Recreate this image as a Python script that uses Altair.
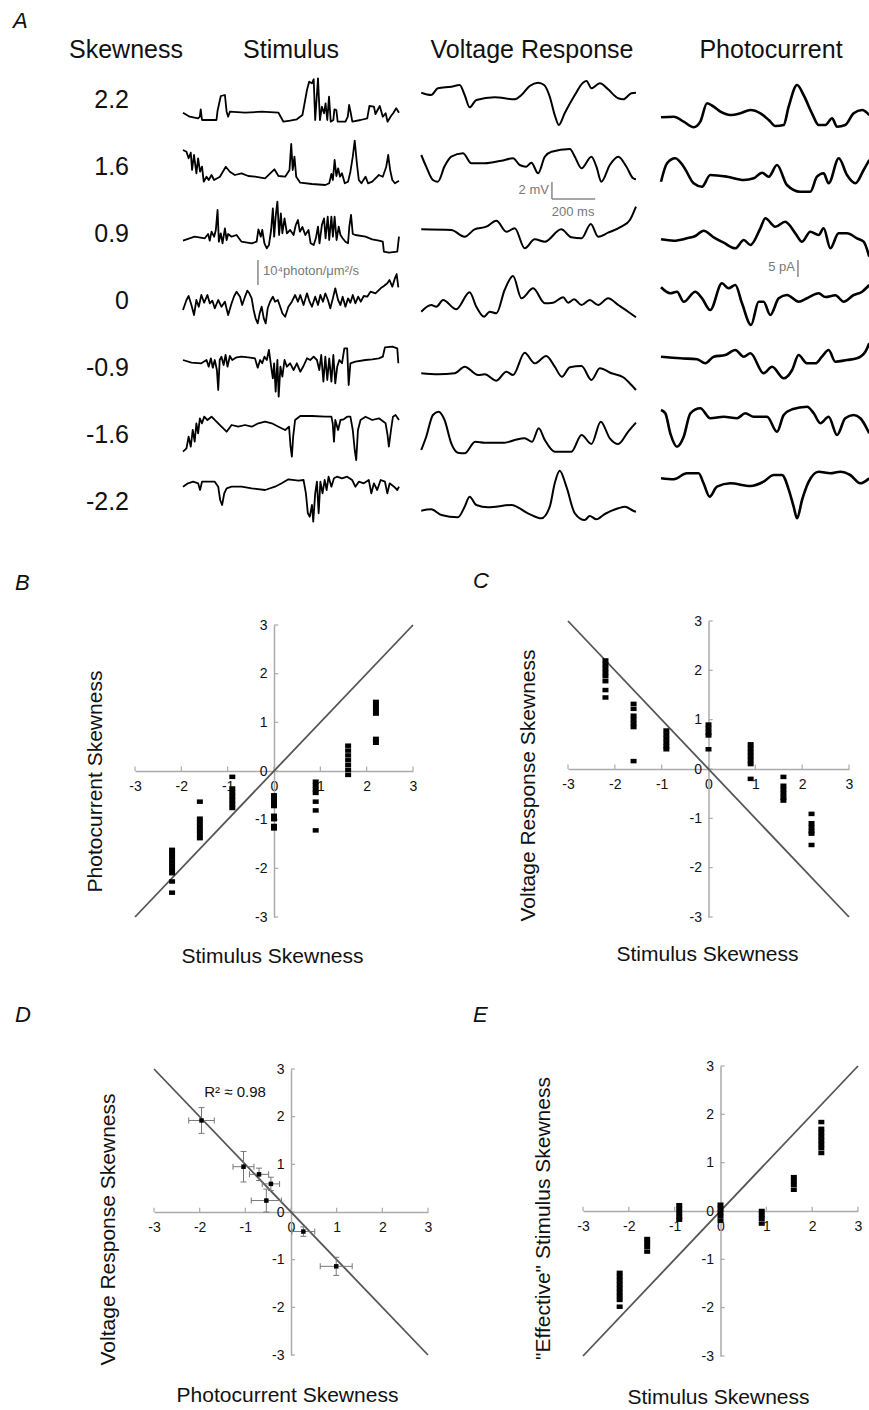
import altair as alt
import pandas as pd

FONT = "Liberation Sans"
W, H = 869, 1410

# ---------------- Panel A data ----------------
SKEW_LEVELS = ["2.2", "1.6", "0.9", "0", "-0.9", "-1.6", "-2.2"]
HEADERS = ["Skewness", "Stimulus", "Voltage Response", "Photocurrent"]

# stimulus traces  [time (ms), intensity (a.u.)]
STIM_22 = [[0,-12.7],[31,-16.7],[70,-18.3],[78,-16.7],[82,-9.3],[88,-20],[155,-20],[160,-10.7],[175,4],[194,5],[202,-11.7],[209,-16.7],[217,-11.7],[287,-12.7],[364,-11.7],[442,-12.7],[465,-21.7],[496,-20.7],[527,-19.3],[553,-15],[574,10],[584,18.3],[597,16.7],[605,20.7],[612,-20],[625,21.7],[634,-20],[643,-6.7],[653,-13.3],[660,-3.3],[668,-20],[676,3.3],[684,-21.7],[696,-20],[701,-9.3],[710,-10],[716,-21.7],[752,-21.7],[763,-16.7],[769,-5],[777,-13.3],[784,-21.7],[822,-20],[853,-18.3],[863,-6],[884,-6.7],[891,-14],[911,-6],[925,-16.7],[938,-13.3],[947,-21.7],[963,-16],[973,-13.3],[987,-8.3],[1000,-12.7]]
STIM_16 = [[0,17],[16,15.3],[26,8.7],[36,14.3],[42,-3],[51,12],[62,-6.3],[70,8.7],[79,-4.7],[88,0.3],[96,-14.7],[109,-9.7],[119,-13],[132,-8],[144,-13],[171,-9.7],[198,0.3],[217,-4.7],[240,-8],[271,-6.3],[302,-9],[333,-9.7],[380,-11.3],[423,-2.3],[442,-9],[473,-9.7],[493,-3],[501,23],[508,-3],[516,10.3],[524,-9.7],[543,-15.7],[597,-17],[659,-18],[677,-16.3],[687,-7],[694,-13],[702,7],[710,-9],[718,-1.3],[727,-9.7],[736,-6.3],[749,-16.3],[764,-14.7],[775,-4.7],[786,10.3],[795,26.3],[805,3.7],[814,-13],[826,-16.3],[845,-9.7],[857,-16.3],[876,-14.7],[907,-8],[925,-9.7],[941,0.3],[950,12],[959,-3],[969,-13],[981,-16.3],[1000,-13.7]]
STIM_09 = [[0,-6.7],[54,-2.7],[101,-4.3],[116,0],[124,-6.7],[132,2.3],[144,-2.7],[152,4],[160,24],[166,-7.7],[175,0.7],[183,-9.3],[194,5.7],[202,-6],[209,0],[225,-2.7],[248,-1],[271,-7.7],[318,-9.3],[341,-7.7],[349,4.7],[360,-2.7],[367,4],[377,-9.3],[388,-14.3],[398,-11],[408,4],[416,25.7],[422,-2.7],[429,17.3],[437,32.3],[445,-1],[453,20.7],[460,0.7],[470,15.7],[481,0.7],[496,4],[512,-1],[522,9],[532,14],[541,2.3],[553,7],[566,-1],[581,4],[591,-9.3],[605,-11],[615,-4.3],[625,7.3],[632,-9.3],[643,9],[653,15.7],[660,-4.3],[670,17.3],[677,-6],[687,17.3],[694,-2.7],[702,17.3],[711,-6],[721,7.3],[729,-1],[739,-4.3],[752,-7.7],[764,-9.3],[770,7.3],[778,19],[786,0],[798,-1],[845,-2.7],[876,-5.3],[907,-6.7],[925,-7.7],[930,-17.7],[953,-18.7],[992,-17.7],[1000,-2.7]]
STIM_00 = [[0,-9],[16,1],[26,5],[39,-4],[51,-14],[62,1],[73,-5.7],[85,6],[98,-1.7],[113,6],[124,-2.3],[136,0.3],[147,-7.3],[163,1],[178,-5.7],[194,-0.7],[209,-14],[225,-2.3],[237,5],[248,9.3],[264,4.3],[274,-4],[287,4.3],[298,10.3],[307,7.7],[318,2.7],[327,-9],[336,-17.3],[346,-22.3],[355,-12.3],[364,-5.7],[374,-17.3],[383,-22.3],[392,-7.3],[403,-0.7],[416,4.3],[426,-0.7],[439,1],[450,-5.7],[460,-12.3],[473,-15.7],[488,-5.7],[504,-0.7],[519,6],[532,-0.7],[543,6],[558,-4],[574,7.7],[586,-0.7],[597,-5.7],[612,4.3],[625,-4],[636,6],[648,-0.7],[659,7.7],[671,1],[682,-7.3],[694,2.7],[705,12.7],[718,1],[729,-4],[739,4.3],[752,-5.7],[764,2.7],[775,-1.7],[786,6],[798,-2.3],[811,4.3],[823,-0.7],[837,5],[853,4.3],[868,9.3],[891,7.7],[915,12.7],[930,15],[946,17.7],[956,21],[969,14.3],[981,22.7],[989,27],[997,13.7]]
STIM_M09 = [[0,8],[39,5.3],[85,4.7],[109,8],[119,1.3],[129,9.7],[138,0.3],[147,8],[157,-2],[163,-22],[170,8],[178,11.3],[188,3],[197,13],[206,1.3],[217,12],[228,8],[248,10.7],[271,11.3],[302,10.7],[333,9.7],[346,0.3],[357,8],[367,4.7],[377,11.3],[388,8],[398,18],[408,1.3],[416,-10.3],[422,4.7],[429,-23.7],[437,8],[443,-28.7],[451,1.3],[460,-8.7],[470,8],[481,1.3],[496,4.7],[512,-2],[527,4.7],[543,-3.7],[558,2],[574,9.7],[589,8],[605,11.3],[620,8],[631,-2],[640,13],[650,-13.7],[659,11.3],[668,-12],[677,9.7],[687,-13.7],[696,13],[705,-15.3],[714,1.3],[724,8],[736,4.7],[747,19.7],[760,19.7],[767,-17],[775,4.7],[798,6.3],[845,8],[876,8.7],[907,9.7],[925,11.3],[935,20.7],[969,21.3],[992,19.7],[997,4.7]]
STIM_M16 = [[0,-16.7],[16,-13.3],[26,-1.7],[36,-11.7],[45,5],[54,-6.7],[62,11.7],[70,1.7],[78,16.7],[88,11.7],[98,18.3],[113,15],[132,18.3],[155,13.3],[178,8.3],[202,3.3],[225,10],[256,8.3],[287,10],[318,8.3],[349,11.7],[380,13.3],[411,11.7],[442,8.3],[473,5],[491,8.3],[498,-11.7],[504,-21.7],[510,-1.7],[519,15],[543,19],[597,19],[659,18.3],[687,18.3],[693,11.7],[699,-6.7],[705,15],[718,5],[729,15],[744,15.7],[760,18.3],[775,18.3],[786,5],[795,-15],[802,-25],[810,5],[822,15],[845,18.3],[876,15],[907,16.7],[938,11.7],[947,0],[953,-11.7],[963,5],[972,18.3],[984,20],[1000,15]]
STIM_M22 = [[0,15.3],[23,18.7],[47,20.3],[70,18.7],[79,12],[88,20.3],[147,20.3],[163,15.3],[172,2],[181,-3],[191,8.7],[202,13.7],[225,15.3],[271,15.3],[318,13.7],[380,12],[426,15.3],[457,18.7],[488,22.7],[535,21.3],[558,22],[569,8.7],[578,-11.3],[587,-14.7],[597,-3],[603,-19.7],[612,8.7],[620,20.3],[628,-11.3],[636,20.3],[646,8.7],[656,22],[665,12],[674,25.3],[687,15.3],[699,23.7],[713,25.3],[736,23.7],[760,25.3],[783,22],[798,15.3],[814,20.3],[837,18.7],[860,22],[872,8.7],[884,18.7],[899,12],[915,22],[935,20.3],[946,8.7],[957,18.7],[977,15.3],[992,12],[1000,15.3]]

# voltage responses [time (ms), a.u.]
VOLT_22 = [[3,7.3],[49,5],[80,11.7],[142,13.3],[181,15],[204,5],[227,-7.3],[258,0],[343,2.7],[436,0.7],[467,5],[505,14],[544,17.3],[572,15],[598,3.3],[621,-15],[640,-25],[667,-13.3],[714,5],[752,17.3],[768,19],[791,11.7],[830,16.7],[868,10.7],[915,1.7],[938,0.7],[976,6.7],[997,7.3]]
VOLT_16 = [[3,12],[26,0.3],[57,-13],[80,-14.7],[111,0.7],[142,10.3],[196,13.7],[235,3.7],[297,3.7],[374,6.3],[428,8.7],[459,2],[489,0.3],[513,4.3],[544,-6.3],[575,10.3],[606,15.3],[691,18],[714,10.3],[745,-1.3],[791,10.3],[814,0.3],[837,-14.7],[876,2],[915,10.3],[953,0.3],[984,-11.3],[997,-12.3]]
VOLT_09 = [[3,4.7],[142,4],[204,-2.7],[250,4.7],[304,7.3],[351,13.3],[397,2.3],[436,5.7],[482,-14.3],[528,-5.3],[575,-7.7],[651,4.7],[698,-3.3],[745,-4.3],[788,10],[822,-2.7],[868,1.3],[929,7.3],[969,14],[997,27.3]]
VOLT_00 = [[3,-10.7],[49,-4],[73,-5.7],[104,1],[165,-8.3],[227,8.7],[258,-5.7],[294,-15.7],[320,-10.7],[351,-12.3],[389,11],[428,25],[467,2.7],[521,12.7],[575,-2.3],[613,-1.7],[660,3.7],[683,-1.7],[711,1.7],[745,-4],[783,1],[822,-4],[868,2.7],[915,-4],[961,-10.7],[997,-16.3]]
VOLT_M09 = [[3,-5.3],[80,-6.3],[158,-5.3],[204,1.3],[266,-7],[297,-6.3],[351,-12.7],[397,-3.7],[428,-7],[482,15.3],[528,4.7],[582,12],[621,1.3],[654,-8.7],[691,0.7],[745,2],[791,-12],[830,-0.3],[884,-5.3],[938,-9.3],[976,-17],[997,-22]]
VOLT_M16 = [[3,-15],[26,-1.7],[57,20],[83,23.3],[111,15],[142,-8.3],[173,-17.7],[204,-18.3],[253,-6.7],[297,-7.7],[389,-7.7],[436,-5],[482,-3.3],[516,-6.7],[547,6.7],[575,-5],[621,-16.7],[698,-16.7],[745,0],[791,-9],[834,13.3],[876,-3.3],[915,-9],[961,3.3],[997,12.3]]
VOLT_M22 = [[3,-8.7],[49,-7.3],[96,-13],[173,-15.3],[204,-4.7],[227,5.3],[258,-3],[312,-5.3],[420,-3],[497,-11.3],[559,-16.3],[598,-4.7],[621,18.7],[644,31.3],[675,15.3],[714,-11.3],[760,-18],[783,-14],[814,-17.3],[853,-12],[915,-6.3],[946,-4.7],[984,-8.7],[997,-9.7]]

# photocurrents [time (ms), a.u.]
PHOTO_22 = [[3,-17.3],[62,-16.7],[108,-21.7],[154,-27.3],[185,-21.7],[216,-3.3],[247,-6.7],[278,-11.7],[324,-15],[370,-13.3],[417,-10],[463,-13.3],[502,-20],[532,-26],[571,-25],[594,-6.7],[633,15],[663,5],[702,-13.3],[733,-25],[764,-25],[795,-18.3],[818,-26.7],[856,-25],[895,-13.3],[934,-10],[967,-15]]
PHOTO_16 = [[3,-14.7],[31,3.7],[69,8.7],[108,0.3],[154,-16.3],[193,-19.7],[231,-8],[309,-9.7],[386,-13],[432,-11.3],[471,-5.7],[502,-9.7],[540,2],[586,-18],[648,-24.7],[694,-24.7],[725,-9.7],[756,-6.3],[779,-16.3],[826,8.7],[864,-8],[903,-16.3],[941,-3],[967,7]]
PHOTO_09 = [[3,-5.3],[62,-6.7],[123,-4.3],[162,-2],[200,3.3],[247,-3.3],[293,-8.7],[347,-14.3],[386,-6],[417,-11],[463,5.7],[486,15.7],[532,7.3],[578,12.3],[625,0.7],[656,-7.7],[694,2.3],[733,-1],[756,5.7],[787,-14.3],[825,0.7],[864,0.7],[910,-4.3],[941,-7.7],[967,-22.7]]
PHOTO_00 = [[3,13.7],[46,7.7],[77,9.3],[108,-0.7],[162,9.3],[193,2.7],[231,-9],[285,17.7],[316,12.7],[347,16],[378,-2.3],[420,-24],[455,-0.7],[478,-0.7],[509,-14],[548,2.7],[586,6],[640,-0.7],[679,2.7],[733,7.7],[764,4],[810,5.7],[849,-0.7],[895,6],[934,9.3],[967,16]]
PHOTO_M09 = [[3,11.3],[93,9.7],[170,8.7],[208,4.7],[247,11.3],[301,13],[347,18],[386,11.3],[417,14.7],[478,-5.3],[517,1.3],[571,-10.3],[610,-2],[640,13],[679,4.7],[718,4.7],[748,11.3],[779,18],[810,6.3],[864,8],[910,9.7],[949,16.3],[967,24.7]]
PHOTO_M16 = [[3,25],[23,21.7],[46,1.7],[77,-11.7],[108,-1.7],[139,21.7],[185,26.7],[231,16.7],[293,18.3],[355,16.7],[393,21.7],[432,18.3],[494,18.3],[540,3.3],[571,20],[610,25.7],[679,28.3],[710,21.7],[741,11.7],[779,18.3],[818,0],[856,16.7],[895,20],[926,16.7],[967,1.7]]
PHOTO_M22 = [[3,23.7],[62,22.7],[123,28.7],[177,28.7],[200,18.7],[228,5.3],[262,15.3],[324,18.7],[417,16],[478,20.3],[525,27],[563,27],[594,12.7],[617,-4.7],[633,-16.3],[656,2],[687,20.3],[733,30.3],[787,28.7],[833,30.3],[879,27],[926,18.7],[967,23.7]]

STIM = [STIM_22, STIM_16, STIM_09, STIM_00, STIM_M09, STIM_M16, STIM_M22]
VOLT = [VOLT_22, VOLT_16, VOLT_09, VOLT_00, VOLT_M09, VOLT_M16, VOLT_M22]
PHOTO = [PHOTO_22, PHOTO_16, PHOTO_09, PHOTO_00, PHOTO_M09, PHOTO_M16, PHOTO_M22]

# scale bars (t, t2, y, y2 in trace units) and their labels
SCALE_BARS = [[347, 347, -160, -185], [1708, 1708, -82, -99], [1708, 1908, -99, -99], [2847, 2847, -160, -177]]
SCALE_TEXT = [["10\u2074photon/\u03bcm\u00b2/s", 370, -171, "left"], ["2 mV", 1694, -90, "right"],
              ["200 ms", 1806, -111.5, "center"], ["5 pA", 2833, -167, "right"]]

# ---------------- Panels B, C, E data (x = stimulus skewness) ----------------
SKEW_X = [-2.2, -1.6, -0.9, 0, 0.9, 1.6, 2.2]
B_Y = [[-1.62,-1.7,-1.78,-1.86,-1.94,-2.02,-2.1,-2.27,-2.5],
       [-0.63,-0.98,-1.06,-1.14,-1.22,-1.3,-1.38],
       [-0.12,-0.36,-0.44,-0.52,-0.6,-0.68,-0.76],
       [-0.5,-0.58,-0.66,-0.72,-0.92,-0.99,-1.13,-1.18],
       [-0.22,-0.3,-0.38,-0.45,-0.63,-0.81,-1.22],
       [0.52,0.42,0.32,0.22,0.12,0.02,-0.08],
       [1.42,1.34,1.26,1.18,0.66,0.58]]
C_Y = [[2.2,2.12,2.04,1.96,1.88,1.78,1.6,1.45],
       [1.32,1.22,1.08,1.0,0.92,0.85,0.16],
       [0.78,0.7,0.62,0.54,0.46,0.4],
       [0.9,0.82,0.74,0.68,0.4],
       [0.5,0.42,0.34,0.26,0.18,0.1,-0.2],
       [-0.16,-0.34,-0.42,-0.5,-0.58,-0.64],
       [-0.91,-1.1,-1.18,-1.26,-1.31,-1.54]]
E_Y = [[-1.28,-1.36,-1.44,-1.52,-1.6,-1.68,-1.76,-1.84,-1.98],
       [-0.58,-0.66,-0.74,-0.84],
       [0.12,0.04,-0.04,-0.12,-0.18],
       [0.13,0.05,-0.03,-0.11,-0.2],
       [0.0,-0.08,-0.16,-0.26],
       [0.7,0.62,0.54,0.44],
       [1.84,1.7,1.62,1.54,1.46,1.38,1.3,1.2]]

# ---------------- Panel D data ----------------
D_X = [-1.96, -1.04, -0.7, -0.44, -0.54, 0.27, 0.99]
D_Y = [1.92, 0.95, 0.79, 0.59, 0.24, -0.41, -1.14]
D_XERR = [0.28, 0.23, 0.21, 0.19, 0.33, 0.25, 0.35]
D_YERR = [0.27, 0.32, 0.13, 0.14, 0.24, 0.1, 0.19]

TICKS = [-3, -2, -1, 0, 1, 2, 3]
DIAG_POS = {"x": [-3, 3], "y": [-3, 3]}
DIAG_NEG = {"x": [-3, 3], "y": [3, -3]}

AXC = "#aaaaaa"
TXT = "#111111"
BAR_PATH = "M-1,-0.75L1,-0.75L1,0.75L-1,0.75Z"

# ================= Panel A =================
ROW_STEP = 67
COL_OFFSET = [0, 1100, 2210]
xa = alt.Scale(domain=[0, 3000], range=[183, 831], nice=False, zero=False)
ya = alt.Scale(domain=[-430, 100], range=[530, 0], nice=False, zero=False)

def trace_df(group, col):
    recs = []
    for r, tr in enumerate(group):
        for t, v in tr:
            recs.append({"key": f"{col}-{r}", "t": t, "tx": t + COL_OFFSET[col], "ty": v - ROW_STEP * r})
    return pd.DataFrame(recs)

def trace_layer(df, width, interp):
    return alt.Chart(df).mark_line(color="black", strokeWidth=width, interpolate=interp,
                                   strokeJoin="round", clip=True).encode(
        x=alt.X("tx:Q", scale=xa, axis=None),
        y=alt.Y("ty:Q", scale=ya, axis=None),
        detail="key:N",
        order="t:Q",
    )

a_layers = [
    trace_layer(trace_df(STIM, 0), 1.8, "linear"),
    trace_layer(trace_df(VOLT, 1), 2.0, "monotone"),
    trace_layer(trace_df(PHOTO, 2), 2.6, "monotone"),
]
skew_df = pd.DataFrame({"label": SKEW_LEVELS, "ty": [-ROW_STEP * i for i in range(len(SKEW_LEVELS))]})
a_layers.append(alt.Chart(skew_df).mark_text(align="right", baseline="middle", fontSize=25, color=TXT).encode(
    x=alt.value(129), y=alt.Y("ty:Q", scale=ya, axis=None), text="label:N"))
bars_df = pd.DataFrame(SCALE_BARS, columns=["x", "x2", "y", "y2"])
a_layers.append(alt.Chart(bars_df).mark_rule(color="#888888", strokeWidth=1.5).encode(
    x=alt.X("x:Q", scale=xa, axis=None), x2="x2:Q",
    y=alt.Y("y:Q", scale=ya, axis=None), y2="y2:Q"))
st_df = pd.DataFrame(SCALE_TEXT, columns=["label", "x", "y", "align"])
for al in ["left", "right", "center"]:
    a_layers.append(alt.Chart(st_df[st_df["align"] == al]).mark_text(
        align=al, baseline="middle", fontSize=13, color="#777777").encode(
        x=alt.X("x:Q", scale=xa, axis=None), y=alt.Y("y:Q", scale=ya, axis=None), text="label:N"))
panel_a = alt.layer(*a_layers)

# ================= scatter panels =================
def scatter_panel(xr, yr, x_title, y_title, x_title_at, y_title_at, diag, point_layers_fn):
    x0 = (xr[0] + xr[1]) / 2
    y0 = (yr[0] + yr[1]) / 2
    xs = alt.Scale(domain=[-3, 3], range=list(xr), nice=False, zero=False)
    ys = alt.Scale(domain=[-3, 3], range=list(yr), nice=False, zero=False)
    common = dict(values=TICKS, ticks=False, tickSize=0, grid=False, domainColor=AXC, domainWidth=1.5,
                  labelFontSize=14, labelColor=TXT, labelFlush=False, labelOverlap=False,
                  labelExpr="'' + datum.value", titleFontSize=21, titleFontWeight="normal",
                  titleColor=TXT, titleBaseline="middle", titleAlign="center")
    xaxis = alt.Axis(orient="bottom", offset=y0 - H, title=x_title, labelPadding=8,
                     titleX=x_title_at[0], titleY=x_title_at[1] - y0, **common)
    yaxis = alt.Axis(orient="left", offset=-x0, title=y_title, labelPadding=7,
                     titleX=y_title_at[0] - x0, titleY=y_title_at[1], **common)
    X = lambda f: alt.X(f, scale=xs, axis=xaxis)
    Y = lambda f: alt.Y(f, scale=ys, axis=yaxis)
    diag_line = alt.Chart(pd.DataFrame(diag)).mark_line(color="#555555", strokeWidth=1.8).encode(
        x=X("x:Q"), y=Y("y:Q"))
    tdf = pd.DataFrame({"v": TICKS, "z": [0] * len(TICKS), "l": [0.09] * len(TICKS)})
    xticks = alt.Chart(tdf).mark_rule(color=AXC, strokeWidth=1.2).encode(
        x=X("v:Q"), y=Y("z:Q"), y2="l:Q")
    yticks = alt.Chart(tdf).mark_rule(color=AXC, strokeWidth=1.2).encode(
        y=Y("v:Q"), x=X("z:Q"), x2="l:Q")
    return alt.layer(xticks, yticks, diag_line, *point_layers_fn(X, Y))

def stacks(ylists):
    recs = []
    for x, ys_ in zip(SKEW_X, ylists):
        for y in ys_:
            recs.append({"x": x, "y": y})
    return pd.DataFrame(recs)

def bar_points(df):
    def fn(X, Y):
        return [alt.Chart(df).mark_point(shape=BAR_PATH, filled=True, size=36, color="black",
                                         opacity=1, strokeWidth=0).encode(x=X("x:Q"), y=Y("y:Q"))]
    return fn

panel_b = scatter_panel((135, 413), (917, 625), "Stimulus Skewness", "Photocurrent Skewness",
                        (272, 956), (95, 781), DIAG_POS, bar_points(stacks(B_Y)))
panel_c = scatter_panel((568, 849), (917, 621), "Stimulus Skewness", "Voltage Response Skewness",
                        (707, 954), (528, 785), DIAG_NEG, bar_points(stacks(C_Y)))
panel_e = scatter_panel((583, 858), (1356, 1066), "Stimulus Skewness", '"Effective" Stimulus Skewness',
                        (718, 1397), (543, 1218), DIAG_POS, bar_points(stacks(E_Y)))

d_df = pd.DataFrame({"x": D_X, "y": D_Y})
d_df["xlo"] = d_df["x"] - pd.Series(D_XERR)
d_df["xhi"] = d_df["x"] + pd.Series(D_XERR)
d_df["ylo"] = d_df["y"] - pd.Series(D_YERR)
d_df["yhi"] = d_df["y"] + pd.Series(D_YERR)
EB = "#777777"

def d_layers(X, Y):
    base = alt.Chart(d_df)
    return [
        base.mark_rule(color=EB, strokeWidth=1).encode(x=X("xlo:Q"), x2="xhi:Q", y=Y("y:Q")),
        base.mark_rule(color=EB, strokeWidth=1).encode(x=X("x:Q"), y=Y("ylo:Q"), y2="yhi:Q"),
        base.mark_tick(orient="vertical", size=6, thickness=1, color=EB, opacity=1).encode(x=X("xlo:Q"), y=Y("y:Q")),
        base.mark_tick(orient="vertical", size=6, thickness=1, color=EB, opacity=1).encode(x=X("xhi:Q"), y=Y("y:Q")),
        base.mark_tick(orient="horizontal", size=6, thickness=1, color=EB, opacity=1).encode(x=X("x:Q"), y=Y("ylo:Q")),
        base.mark_tick(orient="horizontal", size=6, thickness=1, color=EB, opacity=1).encode(x=X("x:Q"), y=Y("yhi:Q")),
        base.mark_square(size=20, color="black", opacity=1).encode(x=X("x:Q"), y=Y("y:Q")),
        alt.Chart(pd.DataFrame({"t": ["R\u00b2 \u2248 0.98"], "x": [-1.9], "y": [2.52]})).mark_text(
            align="left", baseline="middle", fontSize=15, color=TXT).encode(x=X("x:Q"), y=Y("y:Q"), text="t:N"),
    ]

panel_d = scatter_panel((154, 428), (1355, 1069), "Photocurrent Skewness", "Voltage Response Skewness",
                        (287, 1395), (108, 1229), DIAG_NEG, d_layers)

# ================= annotations =================
def label(text, x, y, size, align="left", style="normal"):
    return alt.Chart(pd.DataFrame({"t": [text]})).mark_text(
        align=align, baseline="alphabetic", fontSize=size, fontStyle=style, color=TXT).encode(
        x=alt.value(x), y=alt.value(y), text="t:N")

ann = [label(h, x, 58, 25, "center") for h, x in zip(HEADERS, [126, 291, 532, 771])]
ann += [label(l, x, y, 22, "left", "italic") for l, x, y in
        [("A", 13, 28), ("B", 15, 590), ("C", 473, 588), ("D", 15, 1022), ("E", 473, 1022)]]

chart = alt.layer(panel_a, panel_b, panel_c, panel_d, panel_e, *ann).resolve_scale(
    x="independent", y="independent"
).properties(
    width=W, height=H, padding=0, autosize=alt.AutoSizeParams(type="none")
).configure(font=FONT).configure_view(stroke=None)

chart.save("out.html", embed_options={"renderer": "svg", "actions": False})
